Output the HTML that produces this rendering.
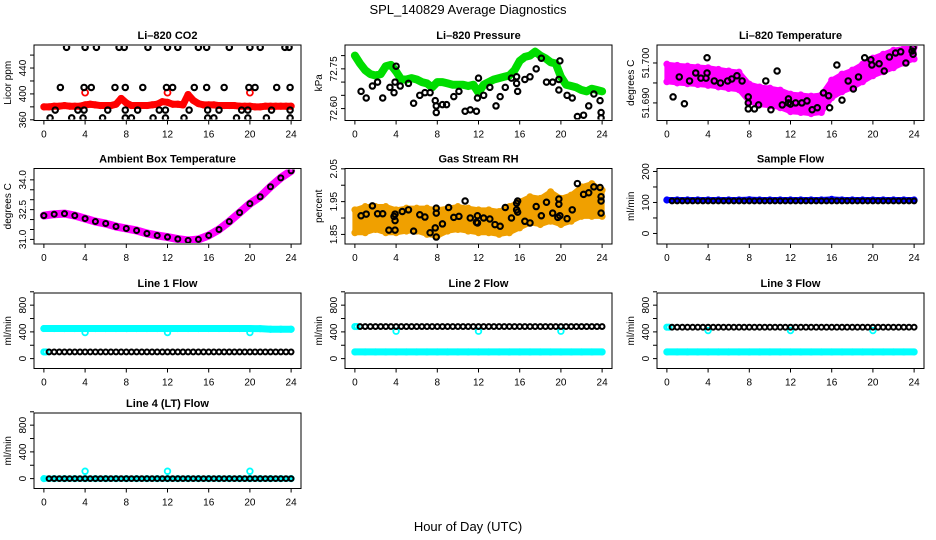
<!DOCTYPE html>
<html><head><meta charset="utf-8"><style>
html,body{margin:0;padding:0;background:#fff}
svg{display:block}
text{font-family:"Liberation Sans",Arial,sans-serif;fill:#000}
</style></head><body>
<svg id="chart" width="936" height="540" viewBox="0 0 936 540" xmlns="http://www.w3.org/2000/svg">
<text x="468" y="14" font-size="13" text-anchor="middle">SPL_140829  Average Diagnostics</text>
<text x="468" y="531" font-size="13" text-anchor="middle">Hour of Day (UTC)</text>
</svg>
<script>
// ---- data ----
const xTicks = [0,4,8,12,16,20,24];
const co2Red = [380,380,381,381,382,381,381,381,383,384,383,382,382,382,384,393,386,382,382,382,382,383,384,388,387,384,384,383,399,390,385,383,383,383,382,382,382,382,381,381,381,380,380,381,381,381,381,381,381];
const co2RedOutX = [4,12,20];
const co2RedOutY = [402,402,402];
const co2BlackX = [2.2,4,5.1,7.3,7.8,10.1,12,13,15,15.8,18,20,21,23.4,23.8, 1.6,3.9,4.6,6.9,7.9,9.6,11.9,12.5,14.6,15.8,17.5,19.9,20.5,22.6,23.9, 1.1,3.3,3.9,6.2,7.9,9.1,11.2,11.8,14.1,15.9,17,19.2,19.8,22.1,23.9, 0.6,2.7,3.8,5.7,7.9,8.5,10.6,11.8,13.6,15.9,16.5,18.7,19.8,21.6,23.9];
const co2BlackY = [472,472,472,472,472,472,472,472,472,472,472,472,472,472,472, 410,410,410,410,410,410,410,410,410,410,410,410,410,410,410, 375,375,375,375,375,375,375,375,375,375,375,375,375,375,375, 363,363,363,363,363,363,363,363,363,363,363,363,363,363,363];
const presGreen = [72.80,72.77,72.745,72.73,72.725,72.73,72.76,72.765,72.74,72.71,72.71,72.715,72.71,72.70,72.695,72.68,72.70,72.70,72.695,72.69,72.69,72.69,72.685,72.69,72.66,72.69,72.70,72.71,72.715,72.72,72.725,72.745,72.78,72.795,72.80,72.815,72.80,72.79,72.775,72.77,72.72,72.69,72.685,72.68,72.67,72.665,72.675,72.67,72.665];
const presBlackX = [0.6,1.1,1.7,2.2,2.7,3.4,3.8,3.9,4,4.4,5.2,5.7,6.3,6.8,7.3,7.8,7.9,7.9,8.5,8.9,9.6,10.1,10.7,11.2,11.8,11.9,12,12.5,13.1,13.7,14.1,14.6,15.2,15.7,15.7,15.8,16.5,17,17.6,18.1,18.6,19.2,19.8,19.8,19.9,20.6,21.1,21.6,22.2,22.7,23.2,23.8,23.9,23.9];
const presBlackY = [72.665,72.64,72.685,72.70,72.64,72.68,72.66,72.70,72.76,72.685,72.695,72.62,72.65,72.66,72.66,72.63,72.61,72.585,72.615,72.615,72.645,72.665,72.59,72.595,72.59,72.64,72.715,72.65,72.68,72.61,72.645,72.68,72.715,72.72,72.695,72.665,72.71,72.72,72.75,72.79,72.70,72.70,72.67,72.71,72.78,72.65,72.64,72.57,72.575,72.61,72.655,72.63,72.585,72.565];
const tempMid = [51.6975,51.6972,51.697,51.6968,51.6966,51.6962,51.6958,51.6955,51.6925,51.6918,51.6915,51.691,51.690,51.6898,51.6895,51.6898,51.6935,51.695,51.696,51.6975,51.699,51.700,51.701,51.7018,51.7025];
const tempSpread = [0.0022,0.0022,0.0022,0.0022,0.0022,0.0022,0.0022,0.0022,0.0022,0.0022,0.0022,0.0022,0.0022,0.0022,0.0022,0.0022,0.0022,0.0022,0.0022,0.0022,0.0022,0.0022,0.0022,0.0018,0.0015];
const tempBlackX = [0.6,1.2,1.7,2.2,2.8,3.3,3.8,3.9,3.9,4.6,5.2,5.9,6.3,6.8,7.3,7.9,7.9,7.9,8.5,8.9,9.6,10.1,10.7,11.2,11.8,11.8,12,12.5,13.1,13.6,14.1,14.6,15.2,15.7,15.8,16.5,17,17.6,18.1,18.6,19.2,19.8,19.9,20.6,21.1,21.6,22.2,22.7,23.2,23.8,23.9,23.9];
const tempBlackY = [51.6915,51.6965,51.6898,51.6955,51.6975,51.6962,51.6962,51.6975,51.7013,51.6955,51.695,51.6955,51.696,51.6968,51.6955,51.6915,51.690,51.6885,51.6885,51.6895,51.6955,51.6883,51.698,51.6895,51.691,51.690,51.6897,51.690,51.690,51.6905,51.6883,51.6888,51.6925,51.6918,51.6888,51.6995,51.6907,51.6955,51.6935,51.6965,51.7013,51.7008,51.6995,51.6998,51.698,51.7015,51.7025,51.7028,51.700,51.703,51.7038,51.7022];
const ambMag = [32.2,32.27,32.3,32.2,32.05,31.9,31.8,31.65,31.55,31.45,31.3,31.2,31.12,31.02,30.95,31.0,31.2,31.5,31.9,32.35,32.8,33.15,33.65,34.1,34.45];
const rhMid = [1.89,1.895,1.90,1.895,1.89,1.895,1.895,1.89,1.885,1.895,1.90,1.895,1.89,1.89,1.885,1.895,1.91,1.925,1.92,1.935,1.92,1.93,1.95,1.955,1.945];
const rhSpread = [0.035,0.04,0.035,0.04,0.035,0.035,0.035,0.04,0.04,0.035,0.035,0.035,0.035,0.035,0.035,0.04,0.04,0.04,0.04,0.045,0.04,0.04,0.045,0.05,0.04];
const rhBlackX = [0.6,1.1,1.7,2.2,2.7,3.3,3.8,3.9,3.9,3.9,4.6,5.2,5.7,6.3,6.8,7.3,7.8,7.9,7.9,7.9,8.5,9.1,9.6,10.1,10.7,11.2,11.8,11.9,11.9,12.5,13.1,13.6,14.1,14.6,15.2,15.7,15.7,15.8,15.8,16.5,17,17.6,18.1,18.6,19.2,19.7,19.8,19.8,19.9,20.6,21.1,21.6,22.2,22.7,23.2,23.8,23.9,23.9,23.9];
const rhBlackY = [1.907,1.912,1.937,1.913,1.913,1.863,1.905,1.912,1.892,1.863,1.92,1.925,1.86,1.91,1.903,1.855,1.87,1.93,1.915,1.842,1.882,1.932,1.902,1.905,1.952,1.90,1.887,1.907,1.885,1.90,1.897,1.88,1.875,1.932,1.90,1.925,1.945,1.952,1.918,1.89,1.885,1.935,1.907,1.948,1.915,1.902,1.958,1.942,1.907,1.898,1.925,2.005,1.972,1.977,1.995,1.993,1.915,1.952,1.965];
const sampleBlue = [108,108,108,108,108,108,108,108,109,108,108,108,108,108,108,108,110,108,108,108,108,108,108,108,108];
const sampleBlack = [105,105,105,105,105,105,105,105,105,105,105,105,105,105,105,105,105,105,105,105,105,105,105,105,105,105,105,105,105,105,105,105,105,105,105,105,105,105,105,105,105,105,105,105,105,105,105,105];
const line1Cyan = [450,450,450,450,450,450,450,450,450,450,450,450,450,450,450,450,450,450,450,450,450,448,440,440,440];
const line1Black = [100,100,100,100,100,100,100,100,100,100,100,100,100,100,100,100,100,100,100,100,100,100,100,100,100,100,100,100,100,100,100,100,100,100,100,100,100,100,100,100,100,100,100,100,100,100,100,100];
const line2Cyan = [100,100,100,100,100,100,100,100,100,100,100,100,100,100,100,100,100,100,100,100,100,100,100,100,100];
const line2Black = [480,480,480,480,480,480,480,480,480,480,480,480,480,480,480,480,480,480,480,480,480,480,480,480,480,480,480,480,480,480,480,480,480,480,480,480,480,480,480,480,480,480,480,480,480,480,480,480];
const line3Cyan = [100,100,100,100,100,100,100,100,100,100,100,100,100,100,100,100,100,100,100,100,100,100,100,100,100];
const line3Black = [470,470,470,470,470,470,470,470,470,470,470,470,470,470,470,470,470,470,470,470,470,470,470,470,470,470,470,470,470,470,470,470,470,470,470,470,470,470,470,470,470,470,470,470,470,470,470,470];
const line4Cyan = [0,0,0,0,0,0,0,0,0,0,0,0,0,0,0,0,0,0,0,0,0,0,0,0,0];
const line4Black = [0,0,0,0,0,0,0,0,0,0,0,0,0,0,0,0,0,0,0,0,0,0,0,0,0,0,0,0,0,0,0,0,0,0,0,0,0,0,0,0,0,0,0,0,0,0,0,0];
const outHours = [4,12,20];
const line1Out = [390,390,390];
const line2Out = [410,410,410];
const line3Out = [420,420,420];
const line4Out = [110,110,110];

// ---- drawing ----
const NS = 'http://www.w3.org/2000/svg';
const svg = document.getElementById('chart');
const COLS = [34,345,657], ROWS = [45,168.5,293,413], W = 267, H = 75.5;
function mk(tag, attrs, parent){ const e=document.createElementNS(NS,tag); for(const k in attrs) e.setAttribute(k,attrs[k]); (parent||svg).appendChild(e); return e; }

function panel(name,c,r,title,ylab,ymin,ymax,ticks,labels){
  const L=COLS[c], T=ROWS[r];
  const g=mk('g',{});
  
  
  const sx=t=>L+(t+0.96)/25.92*W;
  const sy=v=>T+H-(v-ymin)/(ymax-ymin)*H;
  const tt=mk('text',{x:L+W/2,y:T-6,'font-size':11,'font-weight':'bold','text-anchor':'middle'},g);
  tt.textContent=title;
  
  
  const yl=mk('text',{x:0,y:0,'font-size':10,'text-anchor':'middle',transform:`translate(${L-23},${T+H/2}) rotate(-90)`},g);
  yl.textContent=ylab;
  
  
  const box=mk('rect',{x:L,y:T,width:W,height:H,fill:'none',stroke:'#000','stroke-width':1},g);
  
  
  xTicks.forEach(t=>{
    mk('line',{x1:sx(t),x2:sx(t),y1:T+H,y2:T+H+4,stroke:'#000'},g);
    const tl=mk('text',{x:sx(t),y:T+H+17,'font-size':10,'text-anchor':'middle'},g);
    tl.textContent=t;
    
    
  });
  ticks.forEach(v=>{ mk('line',{x1:L-4,x2:L,y1:sy(v),y2:sy(v),stroke:'#000'},g); });
  labels.forEach(v=>{
    const yt=mk('text',{x:0,y:0,'font-size':10,'text-anchor':'middle',transform:`translate(${L-8},${sy(v)}) rotate(-90)`},g);
    yt.textContent=v;
    
    
  });
  const clip='clip'+name;
  const cp=mk('clipPath',{id:clip},g); mk('rect',{x:L+1,y:T+1,width:W-2,height:H-2},cp);
  const pg=mk('g',{'clip-path':`url(#${clip})`},g);
  return {sx,sy,g:pg,name};
}
function dots(p,xs,ys,color,series,r,sw){
  xs.forEach((x,i)=>{
    const c=mk('circle',{cx:p.sx(x),cy:p.sy(ys[i]),r:r||2.7,fill:'none',stroke:color,'stroke-width':sw||2.1},p.g);
    
    
  });
}
function stepX(vals,start,step){ return vals.map((v,i)=>start+i*step); }
function band(p,vals,start,step,color,width,series){
  const xs=stepX(vals,start,step);
  const pl=mk('polyline',{points:xs.map((x,i)=>p.sx(x)+','+p.sy(vals[i])).join(' '),fill:'none',stroke:color,'stroke-width':width,'stroke-linejoin':'round','stroke-linecap':'round'},p.g);
  
  
  dots(p,xs,vals,color,series,2.6,2);
}
function cloud(p,mid,spread,color,series){
  const xs=stepX(mid,0,1);
  const up=xs.map((x,i)=>p.sx(x)+','+p.sy(mid[i]+spread[i]));
  const lo=xs.map((x,i)=>p.sx(x)+','+p.sy(mid[i]-spread[i])).reverse();
  const pg=mk('polygon',{points:up.concat(lo).join(' '),fill:color,stroke:color,'stroke-width':5,'stroke-linejoin':'round'},p.g);
  
  
  dots(p,xs,mid.map((m,i)=>m+spread[i]),color,series,2.6,1.8);
  dots(p,xs,mid.map((m,i)=>m-spread[i]),color,series,2.6,1.8);
}

let p=panel('co2',0,0,'Li\u2013820 CO2','Licor ppm',358.9,475.6,[360,380,400,420,440,460],[360,400,440]);
band(p,co2Red,0,0.5,'#ff0000',7,'red');
dots(p,co2RedOutX,co2RedOutY,'#ff0000','red-outlier',3,1.8);
dots(p,co2BlackX,co2BlackY,'#000','black');

p=panel('pressure',1,0,'Li\u2013820 Pressure','kPa',72.555,72.84,[72.60,72.65,72.70,72.75,72.80],['72.60','72.75']);
band(p,presGreen,0,0.5,'#00dd00',8,'green');
dots(p,presBlackX,presBlackY,'#000','black');

p=panel('li-temp',2,0,'Li\u2013820 Temperature','degrees C',51.6856,51.7045,[51.690,51.695,51.700],['51.690','51.700']);
cloud(p,tempMid,tempSpread,'#ff00ff','magenta');
dots(p,tempBlackX,tempBlackY,'#000','black');

p=panel('ambient',0,1,'Ambient Box Temperature','degrees C',30.77,34.57,[31,31.5,32,32.5,33,33.5,34],['31.0','32.5','34.0']);
band(p,ambMag,0,1,'#ff00ff',8,'magenta');
dots(p,stepX(ambMag,0,1),ambMag,'#000','black',2.5,2);

p=panel('rh',1,1,'Gas Stream RH','percent',1.8208,2.051,[1.85,1.90,1.95,2.00,2.05],['1.85','1.95','2.05']);
cloud(p,rhMid,rhSpread,'#f0a000','orange');
dots(p,rhBlackX,rhBlackY,'#000','black');

p=panel('sample-flow',2,1,'Sample Flow','ml/min',-34,209.6,[0,50,100,150,200],[0,100,200]);
band(p,sampleBlue,0,1,'#0000ff',6,'blue');
dots(p,stepX(sampleBlack,0.5,0.5),sampleBlack,'#000','black',2.4,2);

const fTicks=[0,200,400,600,800,1000], fLabels=[0,400,800];
p=panel('line1-flow',0,2,'Line 1 Flow','ml/min',-148,982,fTicks,fLabels);
band(p,line1Cyan,0,1,'#00ffff',7,'cyan');
dots(p,[0,0.2],[100,100],'#00ffff','cyan-low',2.6,2);
dots(p,outHours,line1Out,'#00ffff','cyan-outlier',2.8,1.8);
dots(p,stepX(line1Black,0.5,0.5),line1Black,'#000','black',2.4,2);

p=panel('line2-flow',1,2,'Line 2 Flow','ml/min',-148,982,fTicks,fLabels);
band(p,line2Cyan,0,1,'#00ffff',7,'cyan');
dots(p,[0,0.2],[480,480],'#00ffff','cyan-high',2.6,2);
dots(p,outHours,line2Out,'#00ffff','cyan-outlier',2.8,1.8);
dots(p,stepX(line2Black,0.5,0.5),line2Black,'#000','black',2.4,2);

p=panel('line3-flow',2,2,'Line 3 Flow','ml/min',-148,982,fTicks,fLabels);
band(p,line3Cyan,0,1,'#00ffff',7,'cyan');
dots(p,[0,0.2],[470,470],'#00ffff','cyan-high',2.6,2);
dots(p,outHours,line3Out,'#00ffff','cyan-outlier',2.8,1.8);
dots(p,stepX(line3Black,0.5,0.5),line3Black,'#000','black',2.4,2);

p=panel('line4-flow',0,3,'Line 4 (LT) Flow','ml/min',-148,982,fTicks,fLabels);
band(p,line4Cyan,0,1,'#00ffff',6,'cyan');
dots(p,outHours,line4Out,'#00ffff','cyan-outlier',2.8,1.8);
dots(p,stepX(line4Black,0.5,0.5),line4Black,'#000','black',2.4,2);
</script>
</body></html>
